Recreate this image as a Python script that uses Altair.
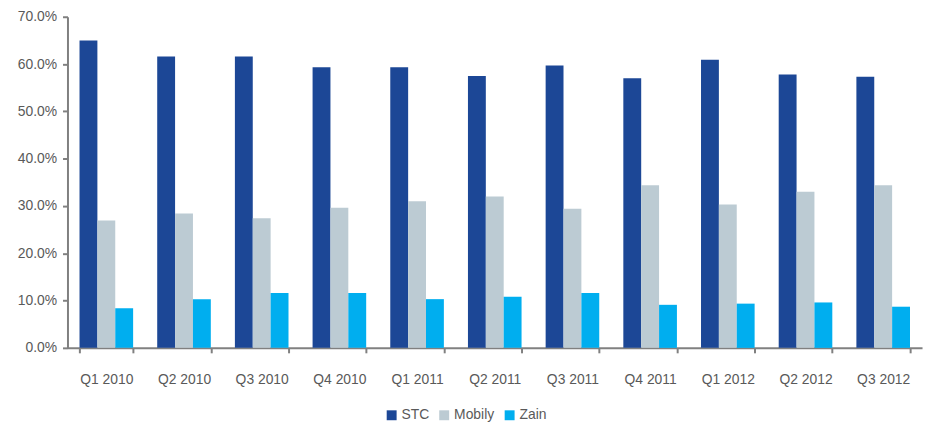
import altair as alt
import pandas as pd

quarters = ["Q1 2010", "Q2 2010", "Q3 2010", "Q4 2010", "Q1 2011", "Q2 2011",
            "Q3 2011", "Q4 2011", "Q1 2012", "Q2 2012", "Q3 2012"]
operators = ["STC", "Mobily", "Zain"]
stc = [65.0, 61.6, 61.6, 59.3, 59.3, 57.5, 59.7, 57.0, 60.9, 57.8, 57.3]
mobily = [26.9, 28.4, 27.4, 29.6, 31.0, 32.0, 29.4, 34.4, 30.3, 33.0, 34.4]
zain = [8.4, 10.3, 11.6, 11.6, 10.3, 10.8, 11.6, 9.1, 9.35, 9.6, 8.7]
colors = ["#1C4796", "#BCCBD3", "#00AEEF"]

rows = []
for op, vals in zip(operators, [stc, mobily, zain]):
    for q, v in zip(quarters, vals):
        rows.append({"quarter": q, "operator": op, "share": v / 100})
df = pd.DataFrame(rows)

FONT = "Liberation Sans"

chart = alt.Chart(df).mark_bar().encode(
    x=alt.X("quarter:N", sort=quarters, title=None,
            scale=alt.Scale(paddingInner=0.31, paddingOuter=0.155),
            axis=alt.Axis(labelAngle=0, tickBand="extent", tickSize=5,
                          labelPadding=20, domainColor="#808080", tickColor="#808080",
                          domainWidth=2, tickWidth=2, labelColor="#595959",
                          labelFontSize=14, labelFont=FONT)),
    xOffset=alt.XOffset("operator:N", sort=operators, scale=alt.Scale(paddingInner=0, paddingOuter=0)),
    y=alt.Y("share:Q", title=None,
            scale=alt.Scale(domain=[0, 0.7]),
            axis=alt.Axis(format=".1%", values=[i / 10 for i in range(8)], tickSize=5,
                          grid=False, domainColor="#808080", tickColor="#808080",
                          domainWidth=2, tickWidth=2, labelColor="#595959",
                          labelFontSize=14, labelFont=FONT, labelPadding=6)),
    color=alt.Color("operator:N", sort=operators,
                    scale=alt.Scale(domain=operators, range=colors),
                    legend=alt.Legend(title=None, orient="none", direction="horizontal",
                                      legendX=320, legendY=395, symbolType="square",
                                      symbolSize=100, symbolStrokeWidth=0, symbolOpacity=1,
                                      labelFont=FONT, labelFontSize=14, labelColor="#595959",
                                      columnPadding=8, labelOffset=3)),
).properties(
    width=862, height=334,
    autosize=alt.AutoSizeParams(type="none"),
    padding={"left": 60, "top": 7, "right": 4, "bottom": 78},
).configure_view(stroke=None)

chart.save("out.html", embed_options={"renderer": "svg", "actions": False})
